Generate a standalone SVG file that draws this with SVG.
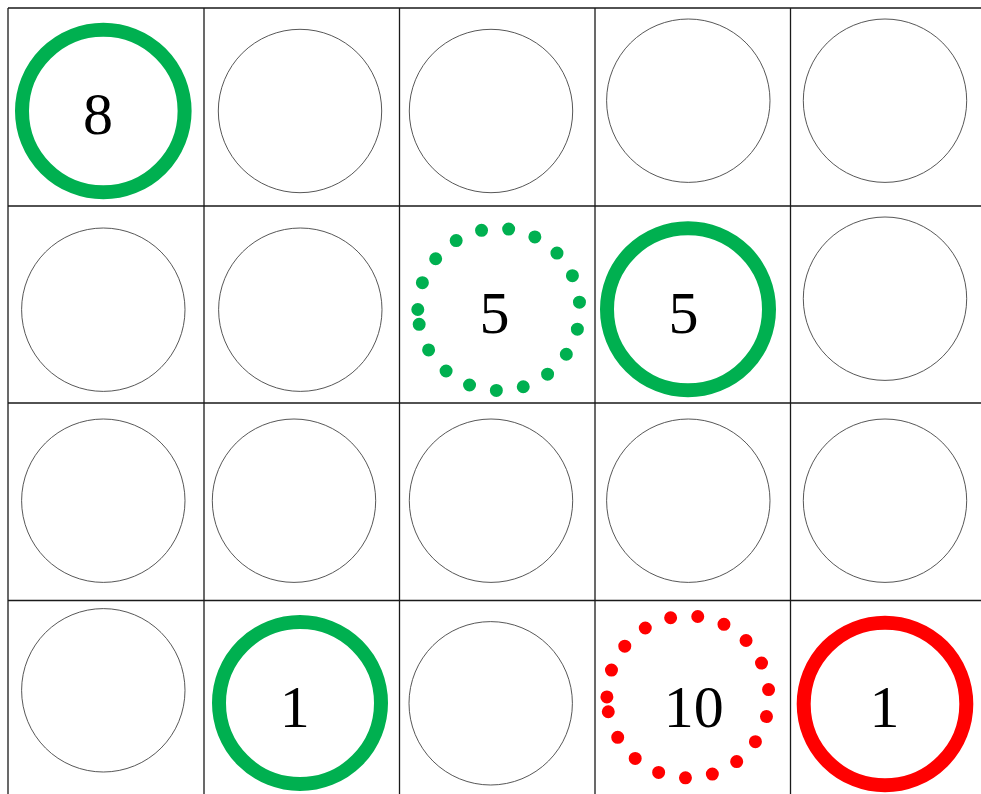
<svg xmlns="http://www.w3.org/2000/svg" width="981" height="794" viewBox="0 0 981 794">
<style>
.grid{stroke:#1a1a1a;stroke-width:1.3;fill:none}
.thin{fill:none;stroke:#444;stroke-width:0.9}
.ring{fill:none;stroke-width:14}
.dots{fill:none;stroke-width:13;stroke-linecap:round;stroke-dasharray:0 27.4}
.g{stroke:#00B050}
.r{stroke:#FF0000}
.lbl{font-family:"Liberation Serif","DejaVu Serif",serif;font-size:60px;fill:#000;text-anchor:middle}
</style>
<rect width="981" height="794" fill="#fff"/>
<g id="grid">
<path class="grid" d="M8 8V794M204 8V794M399.5 8V794M595 8V794M790.5 8V794M8 8H981M8 206H981M8 403H981M8 600.5H981"/>
</g>
<g id="r0c0"><circle class="ring g" cx="103.3" cy="111" r="81.3"/><text class="lbl" x="98" y="134">8</text></g>
<g id="r0c1"><circle class="thin" cx="300" cy="111" r="81.7"/></g>
<g id="r0c2"><circle class="thin" cx="491" cy="111" r="81.7"/></g>
<g id="r0c3"><circle class="thin" cx="688.3" cy="100.7" r="81.7"/></g>
<g id="r0c4"><circle class="thin" cx="885" cy="100.7" r="81.7"/></g>
<g id="r1c0"><circle class="thin" cx="103.3" cy="309.7" r="81.7"/></g>
<g id="r1c1"><circle class="thin" cx="300.3" cy="309.7" r="81.7"/></g>
<g id="r1c2"><path class="dots g" d="M417.8 309.5a81 81 0 1 1 162 0a81 81 0 1 1 -162 0"/><text class="lbl" x="494.5" y="333.3">5</text></g>
<g id="r1c3"><circle class="ring g" cx="688" cy="309.3" r="81"/><text class="lbl" x="683.5" y="333.3">5</text></g>
<g id="r1c4"><circle class="thin" cx="885" cy="298.7" r="81.7"/></g>
<g id="r2c0"><circle class="thin" cx="103.3" cy="500.7" r="81.7"/></g>
<g id="r2c1"><circle class="thin" cx="294" cy="500.7" r="81.7"/></g>
<g id="r2c2"><circle class="thin" cx="491" cy="500.7" r="81.7"/></g>
<g id="r2c3"><circle class="thin" cx="688.3" cy="500.7" r="81.7"/></g>
<g id="r2c4"><circle class="thin" cx="885" cy="500.7" r="81.7"/></g>
<g id="r3c0"><circle class="thin" cx="103.3" cy="690.3" r="81.7"/></g>
<g id="r3c1"><circle class="ring g" cx="300" cy="703" r="81"/><text class="lbl" x="294.7" y="727.3">1</text></g>
<g id="r3c2"><circle class="thin" cx="490.7" cy="703.3" r="81.7"/></g>
<g id="r3c3"><path class="dots r" d="M606.9 696.9a81 81 0 1 1 162 0a81 81 0 1 1 -162 0"/><text class="lbl" x="693.7" y="726.7">10</text></g>
<g id="r3c4"><circle class="ring r" cx="885" cy="704" r="81.3"/><text class="lbl" x="884.5" y="726.7">1</text></g>
</svg>
